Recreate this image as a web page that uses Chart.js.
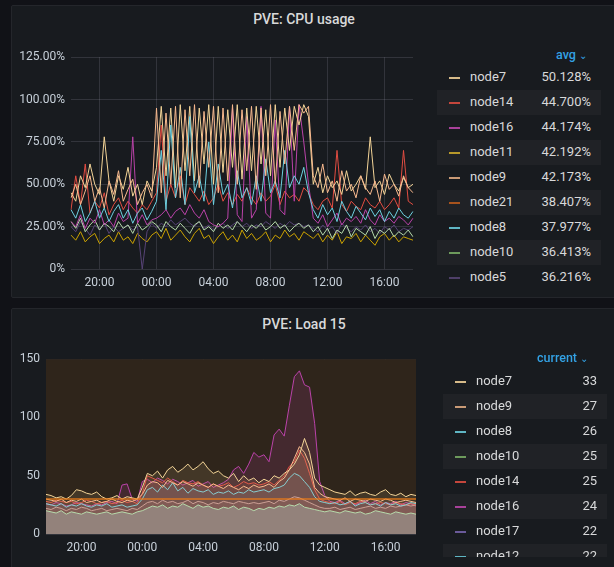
<!DOCTYPE html>
<html><head><meta charset="utf-8">
<script src="https://cdn.jsdelivr.net/npm/chart.js@4.4.1/dist/chart.umd.min.js"></script>
<style>
html,body{margin:0;padding:0;background:#111217;width:614px;height:567px;overflow:hidden;font-family:Roboto,"Noto Sans",sans-serif}
.panel{position:absolute;left:11px;width:610px;background:#181b1f;border:1px solid #24262b;border-radius:2px;box-sizing:border-box}
.title{position:absolute;left:0;width:584px;text-align:center;color:#d8d9da;font-size:14px;font-weight:500}
canvas{position:absolute}
.lg{position:absolute;font-size:13px;color:#d8d9da}
.row{position:absolute;height:25px;width:164px}
.row.band{background:#202226}
.sw{position:absolute;top:12px;width:11px;height:2px}
.nm{position:absolute;top:4px}
.vl{position:absolute;top:4px;right:10px}
.hd{position:absolute;color:#33a2e5;font-size:12.5px;font-weight:500}
#lg2{position:absolute;left:0;top:0;width:614px;height:557px;overflow:hidden}
</style></head><body>
<div class="panel" style="top:5px;height:293px"><div class="title" style="top:5px">PVE: CPU usage</div></div>
<div class="panel" style="top:308px;height:270px"><div class="title" style="top:7px">PVE: Load 15</div></div>
<canvas id="c1" style="left:15px;top:44px"></canvas>
<canvas id="c2" style="left:11px;top:346px"></canvas>
<div id="lg1"></div><div id="lg2"></div>
<script>
// ---------- DATA ----------
const cpuTickLabels = ["20:00","00:00","04:00","08:00","12:00","16:00"];
const cpuYTicks = [0,25,50,75,100,125];
const cpuNode9 = [42,50,38,46,55,40,48,36,52,44,58,40,47,53,38,45,50,42,
 95,45,92,50,96,42,94,55,97,48,93,60,96,45,95,52,97,50,94,58,96,47,95,55,97,50,93,62,96,70,97,92,96,
 55,48,62,45,52,40,58,46,50,42,55,48,44,52,40,56,47,50,43,55,48,45];
const cpuNode7 = [45,40,55,48,62,50,44,78,52,40,55,47,60,43,50,38,52,46,
 60,96,55,95,48,97,58,96,52,95,62,97,50,96,57,94,60,97,53,95,58,96,62,94,55,97,60,95,70,96,85,97,90,
 50,60,45,55,48,52,44,58,46,50,55,47,78,48,52,44,56,50,46,54,48,50];
const cpuNode8 = [35,30,38,28,33,40,30,36,28,34,38,30,35,27,33,36,29,34,
 40,70,35,85,42,60,38,90,45,55,40,75,38,62,44,50,36,58,42,48,38,55,40,65,45,52,42,70,48,55,50,60,45,
 35,30,38,32,36,28,40,34,30,37,33,29,36,31,35,28,34,30,36,32,30,34];
const cpuNode16 = [28,25,32,24,30,27,35,26,29,25,33,28,30,78,27,32,26,29,
 30,32,35,30,34,36,32,38,33,30,35,28,26,25,27,30,95,32,28,90,30,35,96,33,30,88,35,32,96,40,97,75,50,
 30,27,32,25,29,33,26,30,28,31,27,35,29,26,32,28,30,27,31,29,26,30];
const cpuNode14 = [35,55,38,62,33,40,36,45,32,38,42,35,40,36,33,38,35,40,
 45,85,40,50,42,55,38,48,44,40,46,38,42,50,40,45,38,44,40,48,42,38,45,40,43,50,38,46,42,44,40,48,45,
 38,35,40,42,36,70,38,34,40,37,35,42,38,36,40,35,38,42,36,70,40,38];
const cpuNode5 = [25,22,28,24,20,26,23,27,21,25,22,24,26,23,25,0,22,27,
 24,27,25,29,26,28,30,27,25,28,24,26,23,25,27,24,26,28,25,27,24,26,25,28,26,24,27,25,28,26,27,25,26,
 24,22,26,23,25,21,27,24,22,25,23,26,22,24,21,25,23,26,22,24,23,25];
const cpuNode12 = [28,24,30,22,26,29,23,27,25,22,28,24,26,21,27,23,25,28,
 26,22,28,25,23,27,24,21,26,28,23,25,22,27,24,26,23,28,25,22,26,24,27,23,25,28,24,26,22,25,27,24,26,
 22,25,20,24,18,23,21,26,19,24,22,20,25,18,23,21,24,19,22,20,23,19];
const cpuNode11 = [20,17,22,16,19,21,15,18,20,16,22,17,19,15,21,18,16,20,
 22,18,24,17,20,23,19,16,21,24,18,20,15,19,22,17,20,16,23,18,21,17,19,22,16,20,18,23,19,21,17,22,20,
 18,21,16,20,17,22,15,19,18,21,16,20,17,14,19,21,17,20,16,19,18,17];
const cpuLegendNames = ["node7","node14","node16","node11","node9","node21","node8","node10","node5"];
const cpuLegendValues = ["50.128%","44.700%","44.174%","42.192%","42.173%","38.407%","37.977%","36.413%","36.216%"];

const loadTickLabels = ["20:00","00:00","04:00","08:00","12:00","16:00"];
const loadYTicks = [0,50,100,150];
const LOAD_THRESHOLD = 30;
const loadNode16 = [26,25,27,26,24,25,27,26,25,24,26,25,27,28,26,42,43,30,28,
 45,47,44,48,46,43,47,45,42,44,46,41,43,45,40,42,44,47,55,58,52,60,70,66,
 68,62,85,90,84,110,135,140,128,126,95,45,33,
 28,27,29,26,28,25,27,29,26,28,25,27,26,28,25,27,26,24];
const loadNode7 = [34,33,31,32,30,33,38,37,35,34,36,32,30,31,33,30,32,31,30,
 40,52,50,54,48,55,58,53,56,60,55,58,62,56,52,54,50,48,52,45,50,46,48,44,
 47,45,50,48,52,55,60,68,82,70,48,42,40,
 38,36,35,34,37,33,35,36,34,33,36,38,34,33,35,32,34,33];
const loadNode9 = [30,29,28,30,27,29,28,30,27,28,29,27,28,30,28,27,29,28,30,
 34,42,45,44,40,46,44,42,45,43,41,44,42,40,43,41,39,42,40,38,41,39,42,40,
 41,43,40,45,48,55,65,75,70,60,40,35,32,
 31,30,29,31,28,30,29,28,30,29,28,30,29,27,28,29,28,27];
const loadNode14 = [28,27,29,28,27,28,26,27,29,28,26,27,28,26,27,29,27,28,26,
 35,50,48,46,44,48,45,42,46,44,43,45,42,40,43,41,42,44,40,42,45,43,44,42,
 43,45,42,46,50,58,62,72,65,52,38,30,28,
 27,26,28,25,27,26,28,27,25,26,27,26,25,27,26,25,26,25];
const loadNode8 = [26,25,24,26,23,25,24,26,24,23,25,24,26,23,24,25,23,24,25,
 30,38,40,36,42,38,44,37,40,35,39,37,36,38,34,36,35,37,34,36,35,38,36,37,
 38,36,39,40,42,48,52,50,45,40,32,28,27,
 26,27,25,26,28,24,26,27,25,26,24,27,25,26,24,25,27,26];
const loadNode10 = [22,21,23,22,20,22,21,23,22,20,21,22,20,21,22,21,20,22,21,
 24,27,28,26,29,27,28,26,27,29,26,28,27,25,27,26,28,27,26,28,27,26,27,26,
 27,28,26,29,28,30,32,31,29,27,25,23,22,
 22,23,21,22,23,21,22,23,24,22,23,22,24,23,24,25,24,25];
const loadNode12 = [20,19,18,20,17,19,18,17,19,18,17,18,19,17,18,19,18,17,19,
 20,22,24,23,25,22,24,23,26,24,22,25,23,24,22,21,23,22,24,21,23,22,20,22,
 21,23,22,24,23,25,24,26,23,22,21,20,19,
 20,19,18,20,19,18,19,17,18,20,19,18,17,19,18,17,18,17];
const loadLegendNames = ["node7","node9","node8","node10","node14","node16","node17","node12"];
const loadLegendValues = ["33","27","26","25","25","24","22","22"];

// ---------- helpers ----------
function timeLabels(startMin, stepMin, n){const a=[];for(let i=0;i<n;i++){const m=(startMin+i*stepMin)%1440;a.push(String(Math.floor(m/60)).padStart(2,'0')+':'+String(m%60).padStart(2,'0'));}return a;}
const cpuLabels = timeLabels(18*60,20,cpuNode9.length);
const loadLabels = timeLabels(17*60+40,20,loadNode16.length);
const col = {node7:'#F4D598',node9:'#F9BA8F',node8:'#6ED0E0',node16:'#BA43A9',node14:'#E24D42',node5:'#584477',node12:'#B7DBAB',node11:'#CCA300',node10:'#7EB26D',node21:'#C15C17',node17:'#705DA0'};
const legendCol = {node7:'#d6ba89',node14:'#c4463c',node16:'#a8419a',node11:'#b7982a',node9:'#c99a76',node21:'#a7531d',node8:'#5fb6c4',node10:'#6d9a5c',node5:'#4e3f68',node17:'#6a5a9a',node12:'#5fb6c4'};
const tickColor='#c7d0d9', gridColor='rgba(204,204,220,0.15)';
function ds(label,data,color,fill){
  const o={label,data,borderColor:color,borderWidth:1,pointRadius:0,tension:0,fill:false};
  if(fill){o.fill='origin';o.backgroundColor=fill;}
  return o;
}
function xScale(labels,tickLabels){
  return {type:'category',offset:false,
    grid:{color:c=>tickLabels.includes(labels[c.index])?gridColor:'transparent',drawTicks:false},border:{display:false},
    ticks:{autoSkip:false,maxRotation:0,color:tickColor,font:{size:12,family:'Roboto'},padding:7,
      callback:(v,i)=>tickLabels.includes(labels[i])?labels[i]:''},
    afterFit:s=>{s.height=26;}};
}
Chart.defaults.animation=false;
Chart.defaults.plugins.legend.display=false;
Chart.defaults.plugins.tooltip.enabled=false;

// ---------- CPU ----------
const c1=document.getElementById('c1');c1.width=405;c1.height=251;c1.style.width='405px';c1.style.height='251px';
new Chart(c1,{type:'line',data:{labels:cpuLabels,datasets:[
  ds('node9',cpuNode9,col.node9),ds('node8',cpuNode8,col.node8),ds('node7',cpuNode7,col.node7),
  ds('node16',cpuNode16,col.node16),ds('node14',cpuNode14,col.node14),ds('node12',cpuNode12,col.node12),
  ds('node5',cpuNode5,col.node5),ds('node11',cpuNode11,col.node11)]},
 options:{responsive:false,layout:{padding:{top:6,right:4,left:0,bottom:0}},
  scales:{x:xScale(cpuLabels,cpuTickLabels),
   y:{min:0,max:125,afterBuildTicks:s=>{s.ticks=cpuYTicks.map(v=>({value:v}));},
    grid:{color:gridColor,drawTicks:false},border:{display:false},
    ticks:{color:tickColor,font:{size:12,family:'Roboto'},padding:6,callback:v=>v===0?'0%':v.toFixed(2)+'%'},
    afterFit:s=>{s.width=56;}}}}});

// ---------- LOAD ----------
const bgPlugin={id:'thr',beforeDatasetsDraw(ch){const {ctx,chartArea:a}=ch;ctx.save();
  ctx.fillStyle='#2f251b';ctx.fillRect(a.left,a.top,a.right-a.left,a.bottom-a.top);
  ctx.restore();},
 afterDatasetsDraw(ch){const {ctx,chartArea:a,scales:{y}}=ch;const py=y.getPixelForValue(LOAD_THRESHOLD);ctx.save();ctx.strokeStyle='rgba(235,123,24,0.85)';ctx.lineWidth=1.5;ctx.beginPath();ctx.moveTo(a.left,py);ctx.lineTo(a.right,py);ctx.stroke();ctx.restore();}};
const c2=document.getElementById('c2');c2.width=412;c2.height=214;c2.style.width='412px';c2.style.height='214px';
new Chart(c2,{type:'line',data:{labels:loadLabels,datasets:[
  ds('node12',loadNode12,col.node12,'rgba(150,138,130,0.85)'),ds('node7',loadNode7,col.node7,'rgba(244,213,152,0.1)'),ds('node9',loadNode9,col.node9,'rgba(249,186,143,0.1)'),
  ds('node8',loadNode8,col.node8,'rgba(110,208,224,0.08)'),ds('node14',loadNode14,col.node14,'rgba(226,77,66,0.1)'),ds('node10',loadNode10,'#c89a98','rgba(200,120,120,0.15)'),
  ds('node16',loadNode16,col.node16,'rgba(186,67,169,0.15)')]},
 options:{responsive:false,layout:{padding:{top:8,right:2,left:0,bottom:0}},
  scales:{x:xScale(loadLabels,loadTickLabels),
   y:{min:0,max:150,afterBuildTicks:s=>{s.ticks=loadYTicks.map(v=>({value:v}));},
    grid:{color:gridColor,drawTicks:false},border:{display:false},
    ticks:{color:tickColor,font:{size:12,family:'Roboto'},padding:6},
    afterFit:s=>{s.width=35;}}}},plugins:[bgPlugin]});

// ---------- legends ----------
function legend(el,hdText,hdLeft,hdTop,left,top,names,vals){
  let h=`<div class="hd" style="left:${hdLeft}px;top:${hdTop}px">${hdText} <span style="font-size:10px">&#8964;</span></div>`;
  names.forEach((n,i)=>{h+=`<div class="row lg${i%2?' band':''}" style="left:${left}px;top:${top+i*25}px">
   <div class="sw" style="left:12px;background:${legendCol[n]}"></div><div class="nm" style="left:33px">${n}</div><div class="vl">${vals[i]}</div></div>`;});
  document.getElementById(el).innerHTML=h;
}
legend('lg1','avg',556,47,437,65,cpuLegendNames,cpuLegendValues);
legend('lg2','current',537,350,443,369,loadLegendNames,loadLegendValues);
</script></body></html>
